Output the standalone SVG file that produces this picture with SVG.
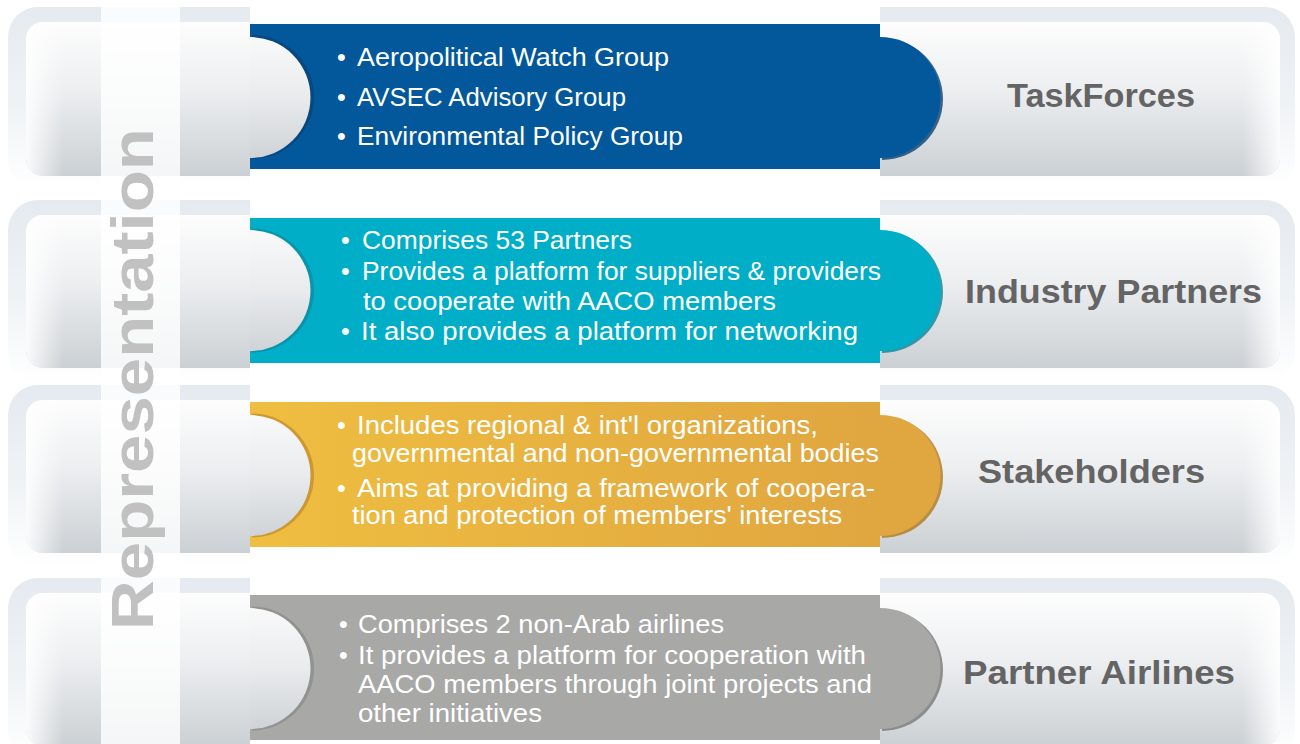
<svg xmlns="http://www.w3.org/2000/svg" width="1300" height="744" viewBox="0 0 1300 744">
<style>
.outer{fill:url(#gOuter)}
.inner{fill:url(#gInner)}
.edge{fill:url(#gEdge)}
.b{font-family:"Liberation Sans",Arial,sans-serif;font-size:25px;fill:#ffffff}
.t{font-family:"Liberation Sans",Arial,sans-serif;font-size:34px;font-weight:bold;fill:#646464}
.rep{font-family:"Liberation Sans",Arial,sans-serif;font-size:60px;font-weight:bold;fill:#c1c1c1}
.semi{fill:url(#gSemi)}
</style>
<defs>
<linearGradient id="gOuter" x1="0" y1="0" x2="0" y2="1">
<stop offset="0" stop-color="#e5eaf0"/><stop offset="0.55" stop-color="#f0f3f6"/><stop offset="1" stop-color="#ffffff"/>
</linearGradient>
<linearGradient id="gInner" x1="0" y1="0" x2="0" y2="1">
<stop offset="0" stop-color="#fdfdfd"/><stop offset="0.45" stop-color="#eceef0"/><stop offset="1" stop-color="#cbd0d4"/>
</linearGradient>
<linearGradient id="gSemi" x1="0" y1="0" x2="0" y2="1">
<stop offset="0" stop-color="#f9f9fa"/><stop offset="0.5" stop-color="#e9ebed"/><stop offset="1" stop-color="#cfd3d7"/>
</linearGradient>
<linearGradient id="gEdge" x1="0" y1="0" x2="1" y2="0">
<stop offset="0" stop-color="#ffffff" stop-opacity="0.9"/><stop offset="0.03" stop-color="#ffffff" stop-opacity="0"/>
<stop offset="0.97" stop-color="#ffffff" stop-opacity="0"/><stop offset="1" stop-color="#ffffff" stop-opacity="0.9"/>
</linearGradient>
<linearGradient id="gGold" x1="0" y1="0" x2="1" y2="0">
<stop offset="0" stop-color="#efbe40"/><stop offset="1" stop-color="#e0a640"/>
</linearGradient>
<clipPath id="sides"><rect x="0" y="0" width="250" height="744"/><rect x="880" y="0" width="420" height="744"/></clipPath>
</defs>
<rect width="1300" height="744" fill="#ffffff"/>

<g id="row1">
<g clip-path="url(#sides)">
<rect class="outer" x="8" y="7" width="1287" height="182" rx="30"/>
<rect class="inner" x="26" y="22" width="1254" height="154" rx="17"/>
<rect class="edge" x="26" y="22" width="1254" height="154" rx="17"/>
</g>
<rect x="250" y="24" width="630" height="145" fill="#02589a"/>
<path d="M252,35 A62,62 0 0 1 252,159 Z" fill="#0a4578" opacity="0.8"/>
<path class="semi" d="M250,37 A60.5,60.5 0 0 1 250,158 Z"/>
<path d="M882,38 A61,61 0 0 1 882,160 Z" fill="#0b4170" opacity="0.8"/>
<path d="M880,37 A60.5,60.5 0 0 1 880,158 Z" fill="#02589a"/>
<text class="b" x="337" y="66">•</text><text class="b" x="337" y="106">•</text><text class="b" x="337" y="145">•</text>
<text class="b" x="357" y="66" textLength="312" lengthAdjust="spacingAndGlyphs">Aeropolitical Watch Group</text>
<text class="b" x="357" y="106" textLength="269" lengthAdjust="spacingAndGlyphs">AVSEC Advisory Group</text>
<text class="b" x="357" y="145" textLength="326" lengthAdjust="spacingAndGlyphs">Environmental Policy Group</text>
<text class="t" x="1007" y="107" textLength="188" lengthAdjust="spacingAndGlyphs">TaskForces</text>
</g>

<g id="row2">
<g clip-path="url(#sides)">
<rect class="outer" x="8" y="200" width="1287" height="182" rx="30"/>
<rect class="inner" x="26" y="215" width="1254" height="153" rx="17"/>
<rect class="edge" x="26" y="215" width="1254" height="153" rx="17"/>
</g>
<rect x="250" y="218" width="630" height="145" fill="#01aec7"/>
<path d="M252,228.5 A62,62 0 0 1 252,352.5 Z" fill="#0a8fa5" opacity="0.8"/>
<path class="semi" d="M250,230 A60.5,60.5 0 0 1 250,351 Z"/>
<path d="M882,231 A61,61 0 0 1 882,353 Z" fill="#0a8498" opacity="0.8"/>
<path d="M880,230 A60.5,60.5 0 0 1 880,351 Z" fill="#01aec7"/>
<text class="b" x="341" y="249">•</text><text class="b" x="341" y="280">•</text><text class="b" x="341" y="340">•</text>
<text class="b" x="362" y="249" textLength="270" lengthAdjust="spacingAndGlyphs">Comprises 53 Partners</text>
<text class="b" x="362" y="280" textLength="519" lengthAdjust="spacingAndGlyphs">Provides a platform for suppliers &amp; providers</text>
<text class="b" x="363" y="310" textLength="413" lengthAdjust="spacingAndGlyphs">to cooperate with AACO members</text>
<text class="b" x="361" y="340" textLength="497" lengthAdjust="spacingAndGlyphs">It also provides a platform for networking</text>
<text class="t" x="965" y="303" textLength="297" lengthAdjust="spacingAndGlyphs">Industry Partners</text>
</g>

<g id="row3">
<g clip-path="url(#sides)">
<rect class="outer" x="8" y="385" width="1287" height="182" rx="30"/>
<rect class="inner" x="26" y="400" width="1254" height="153" rx="17"/>
<rect class="edge" x="26" y="400" width="1254" height="153" rx="17"/>
</g>
<rect x="250" y="402" width="630" height="145" fill="url(#gGold)"/>
<path d="M252,413.5 A62,62 0 0 1 252,537.5 Z" fill="#c48f2c" opacity="0.8"/>
<path class="semi" d="M250,415 A60.5,60.5 0 0 1 250,536 Z"/>
<path d="M882,416 A61,61 0 0 1 882,538 Z" fill="#b07f2a" opacity="0.85"/>
<path d="M880,415 A60.5,60.5 0 0 1 880,536 Z" fill="#e0a740"/>
<text class="b" x="337" y="434">•</text><text class="b" x="337" y="497">•</text>
<text class="b" x="357" y="434" textLength="461" lengthAdjust="spacingAndGlyphs">Includes regional &amp; int'l organizations,</text>
<text class="b" x="352" y="462" textLength="527" lengthAdjust="spacingAndGlyphs">governmental and non-governmental bodies</text>
<text class="b" x="357" y="497" textLength="518" lengthAdjust="spacingAndGlyphs">Aims at providing a framework of coopera-</text>
<text class="b" x="352" y="524" textLength="490" lengthAdjust="spacingAndGlyphs">tion and protection of members' interests</text>
<text class="t" x="978" y="483" textLength="227" lengthAdjust="spacingAndGlyphs">Stakeholders</text>
</g>

<g id="row4">
<g clip-path="url(#sides)">
<rect class="outer" x="8" y="578" width="1287" height="182" rx="30"/>
<rect class="inner" x="26" y="593" width="1254" height="153" rx="17"/>
<rect class="edge" x="26" y="593" width="1254" height="153" rx="17"/>
</g>
<rect x="250" y="595" width="630" height="145" fill="#a8a8a7"/>
<path d="M252,606.5 A62,62 0 0 1 252,730.5 Z" fill="#8c8c8c" opacity="0.8"/>
<path class="semi" d="M250,608 A60.5,60.5 0 0 1 250,729 Z"/>
<path d="M882,609 A61,61 0 0 1 882,731 Z" fill="#7e7e7e" opacity="0.85"/>
<path d="M880,608 A60.5,60.5 0 0 1 880,729 Z" fill="#a8a8a7"/>
<text class="b" x="339" y="633">•</text><text class="b" x="339" y="664">•</text>
<text class="b" x="358" y="633" textLength="366" lengthAdjust="spacingAndGlyphs">Comprises 2 non-Arab airlines</text>
<text class="b" x="358" y="664" textLength="508" lengthAdjust="spacingAndGlyphs">It provides a platform for cooperation with</text>
<text class="b" x="358" y="693" textLength="514" lengthAdjust="spacingAndGlyphs">AACO members through joint projects and</text>
<text class="b" x="358" y="722" textLength="184" lengthAdjust="spacingAndGlyphs">other initiatives</text>
<text class="t" x="963" y="684" textLength="272" lengthAdjust="spacingAndGlyphs">Partner Airlines</text>
</g>

<g id="representation">
<rect x="101" y="0" width="79" height="744" fill="#ffffff" opacity="0.8"/>
<text class="rep" transform="translate(153,630) rotate(-90)" x="0" y="0" textLength="502" lengthAdjust="spacingAndGlyphs">Representation</text>
</g>
</svg>
